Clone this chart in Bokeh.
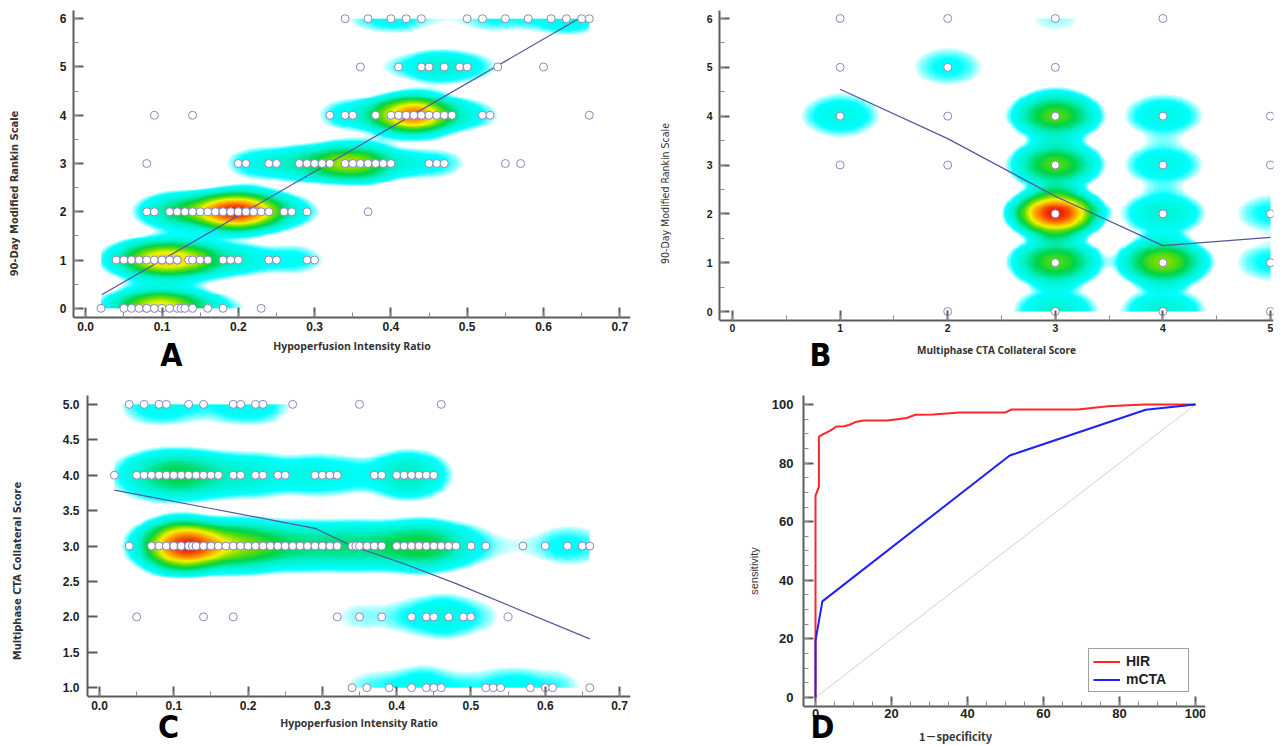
import numpy as np
from bokeh.plotting import figure
from bokeh.layouts import column, row
from bokeh.models import (Range1d, LinearColorMapper, Label, Legend, LegendItem,
                          SingleIntervalTicker, PrintfTickFormatter)
from bokeh.embed import file_html
from bokeh.resources import INLINE

# ---------------- Panel A: HIR vs 90-day mRS ----------------
a_mrs0 = [0.02, 0.05, 0.06, 0.07, 0.08, 0.08, 0.09, 0.09, 0.10, 0.11, 0.12, 0.125, 0.13, 0.14, 0.16, 0.18, 0.23]
a_mrs1 = [0.04, 0.05, 0.06, 0.07, 0.08, 0.09, 0.10, 0.10, 0.11, 0.11, 0.12, 0.12, 0.135, 0.14, 0.15, 0.16,
          0.18, 0.19, 0.20, 0.24, 0.25, 0.29, 0.30]
a_mrs2 = [0.08, 0.09, 0.11, 0.12, 0.13, 0.14, 0.15, 0.16, 0.17, 0.18, 0.18, 0.19, 0.19, 0.20, 0.20, 0.20, 0.21,
          0.21, 0.22, 0.22, 0.23, 0.24, 0.26, 0.27, 0.29, 0.37]
a_mrs3 = [0.08, 0.20, 0.21, 0.24, 0.25, 0.28, 0.29, 0.30, 0.31, 0.32, 0.34, 0.34, 0.35, 0.35, 0.36, 0.37, 0.38,
          0.39, 0.40, 0.45, 0.46, 0.47, 0.55, 0.57]
a_mrs4 = [0.09, 0.14, 0.32, 0.34, 0.35, 0.38, 0.40, 0.41, 0.41, 0.42, 0.42, 0.42, 0.43, 0.43, 0.44, 0.44, 0.45,
          0.46, 0.47, 0.48, 0.52, 0.53, 0.66]
a_mrs5 = [0.36, 0.41, 0.44, 0.45, 0.47, 0.49, 0.50, 0.54, 0.60]
a_mrs6 = [0.34, 0.37, 0.40, 0.42, 0.44, 0.50, 0.52, 0.55, 0.58, 0.61, 0.63, 0.65, 0.66]
a_fit_x = [0.021, 0.646]
a_fit_y = [0.28, 6.0]

# ---------------- Panel B: mCTA score vs 90-day mRS ----------------
b_cta = [1, 1, 1, 1, 2, 2, 2, 2, 2, 3, 3, 3, 3, 3, 3, 3, 4, 4, 4, 4, 4, 4, 5, 5, 5, 5, 5]
b_mrs = [3, 4, 5, 6, 0, 3, 4, 5, 6, 0, 1, 2, 3, 4, 5, 6, 0, 1, 2, 3, 4, 6, 0, 1, 2, 3, 4]
b_n = [1, 4, 1, 1, 1, 1, 1, 3, 1, 5, 10, 18, 10, 10, 1, 2, 5, 11, 5, 4, 4, 1, 1, 3, 3, 1, 1]
b_mean_x = [1, 2, 3, 4, 5]
b_mean_y = [4.55, 3.54, 2.36, 1.35, 1.52]

# ---------------- Panel C: HIR vs mCTA score ----------------
c_cta5 = [0.04, 0.06, 0.08, 0.09, 0.12, 0.14, 0.18, 0.19, 0.21, 0.22, 0.26, 0.35, 0.46]
c_cta4 = [0.02, 0.05, 0.06, 0.07, 0.08, 0.09, 0.10, 0.10, 0.11, 0.12, 0.13, 0.14, 0.15, 0.16, 0.18, 0.19,
          0.21, 0.22, 0.24, 0.25, 0.29, 0.30, 0.31, 0.32, 0.37, 0.38, 0.40, 0.41, 0.42, 0.43, 0.44, 0.45]
c_cta3 = [0.04, 0.07, 0.08, 0.09, 0.09, 0.10, 0.10, 0.10, 0.10, 0.11, 0.11, 0.11, 0.11, 0.12, 0.12, 0.125,
          0.13, 0.13, 0.14, 0.15, 0.15, 0.16, 0.17, 0.18, 0.18, 0.19, 0.19, 0.20, 0.20, 0.21, 0.22, 0.23,
          0.24, 0.25, 0.26, 0.27, 0.28, 0.29, 0.30, 0.31, 0.32, 0.34, 0.345, 0.35, 0.36, 0.37, 0.38, 0.40,
          0.41, 0.42, 0.42, 0.43, 0.43, 0.44, 0.45, 0.46, 0.47, 0.48, 0.50, 0.52, 0.57, 0.60, 0.63, 0.65, 0.66]
c_cta2 = [0.05, 0.14, 0.18, 0.32, 0.35, 0.38, 0.42, 0.44, 0.45, 0.47, 0.49, 0.50, 0.55]
c_cta1 = [0.34, 0.36, 0.39, 0.42, 0.44, 0.45, 0.46, 0.52, 0.53, 0.54, 0.58, 0.60, 0.61, 0.66]
c_fit_x = [0.02, 0.15, 0.29, 0.34, 0.41, 0.48, 0.66]
c_fit_y = [3.79, 3.53, 3.25, 3.00, 2.75, 2.47, 1.69]

# ---------------- Panel D: ROC curves ----------------
d_hir_fpr = [0, 0, 0.9, 0.9, 2.2, 3.9, 5.5, 7.5, 8.8, 10.5, 12.7, 18.9, 24, 26.3, 31, 38, 50, 51.6, 69, 77, 86.4, 100]
d_hir_tpr = [0, 68.9, 72, 89, 90, 91.1, 92.5, 92.6, 93, 94, 94.5, 94.5, 95.4, 96.5, 96.6, 97.3, 97.3, 98.3,
             98.3, 99.4, 100, 100]
d_cta_fpr = [0, 0, 1.8, 51.1, 86.9, 100]
d_cta_tpr = [0, 19.4, 32.8, 82.6, 98.2, 100]
d_ref = [0, 100]
d_labels = ["HIR", "mCTA"]

# ---------------- helpers ----------------
HEAT_STOPS = [(0.00, (225, 255, 255)), (0.07, (0, 255, 255)), (0.25, (0, 242, 200)),
              (0.42, (0, 212, 70)), (0.55, (110, 222, 0)), (0.68, (245, 245, 0)),
              (0.82, (255, 150, 0)), (1.00, (235, 20, 0))]


def make_palette(n=256):
    pos = [s[0] for s in HEAT_STOPS]
    cols = np.array([s[1] for s in HEAT_STOPS], dtype=float)
    out = []
    for t in np.linspace(0, 1, n):
        r = np.interp(t, pos, cols[:, 0])
        g = np.interp(t, pos, cols[:, 1])
        b = np.interp(t, pos, cols[:, 2])
        out.append("#%02x%02x%02x" % (int(r), int(g), int(b)))
    return out


PALETTE = make_palette()


def add_heat(p, xs, ys, ws, hx, hy, nx, ny, thresh, x0=None, x1=None):
    x0 = min(xs) if x0 is None else x0
    x1 = max(xs) if x1 is None else x1
    y0, y1 = min(ys), max(ys)
    gx = np.linspace(x0, x1, nx)
    gy = np.linspace(y0, y1, ny)
    X, Y = np.meshgrid(gx, gy)
    img = np.zeros_like(X)
    for x, y, w in zip(xs, ys, ws):
        r2 = ((X - x) / hx) ** 2 + ((Y - y) / hy) ** 2
        img += w * np.clip(1.0 - r2, 0.0, None) ** 2
    mapper = LinearColorMapper(palette=PALETTE, low=thresh, high=float(img.max()), low_color="white")
    p.image(image=[img], x=x0, y=y0, dw=x1 - x0, dh=y1 - y0, color_mapper=mapper)


AX = "#5c5c5c"
LETTER_FONT = "DejaVu Sans Condensed, Liberation Sans"
NARROW_FONT = "Liberation Sans Narrow, DejaVu Sans Condensed, Liberation Sans"


def style_axes(p, xint, xminor, yint, yminor, xfmt, yfmt, tick_size, x_at, y_bounds):
    p.xaxis.ticker = SingleIntervalTicker(interval=xint, num_minor_ticks=max(xminor, 1))
    p.yaxis.ticker = SingleIntervalTicker(interval=yint, num_minor_ticks=max(yminor, 1))
    if xfmt:
        p.xaxis.formatter = PrintfTickFormatter(format=xfmt)
    if yfmt:
        p.yaxis.formatter = PrintfTickFormatter(format=yfmt)
    p.xaxis.fixed_location = x_at
    p.yaxis.bounds = y_bounds
    for ax, mn in ((p.xaxis[0], xminor), (p.yaxis[0], yminor)):
        ax.axis_line_color = AX
        ax.axis_line_width = 2
        ax.major_tick_line_color = AX
        ax.major_tick_line_width = 2
        ax.major_tick_in = 10
        ax.major_tick_out = 0
        ax.minor_tick_line_color = "#8a8a8a" if mn > 0 else None
        ax.minor_tick_line_width = 1
        ax.minor_tick_in = 5
        ax.minor_tick_out = 0
        ax.major_label_text_font = "Liberation Sans"
        ax.major_label_text_font_style = "bold"
        ax.major_label_text_font_size = tick_size
        ax.major_label_text_color = "#222222"
        ax.axis_label_text_color = "#333333"
    p.grid.visible = False
    p.outline_line_color = None
    p.background_fill_color = "white"
    p.border_fill_color = "white"


def panel_letter(p, text, x, y):
    p.add_layout(Label(x=x, y=y, x_units="screen", y_units="screen", text=text,
                       text_align="center", text_baseline="alphabetic",
                       text_font=LETTER_FONT, text_font_style="bold",
                       text_font_size="32px", text_color="#000000"))


PT_LINE = "#8c88bd"
FIT = "#55559c"

# ---------------- Panel A ----------------
pA = figure(width=640, height=376, x_range=Range1d(-0.016, 0.714), y_range=Range1d(-1.412, 6.17),
            output_backend="svg", toolbar_location=None,
            min_border_left=73, min_border_right=10, min_border_top=10, min_border_bottom=0)
a_rows = [a_mrs0, a_mrs1, a_mrs2, a_mrs3, a_mrs4, a_mrs5, a_mrs6]
a_x = [v for r in a_rows for v in r]
a_y = [i for i, r in enumerate(a_rows) for _ in r]
add_heat(pA, a_x, a_y, [1] * len(a_x), 0.075, 0.7, 500, 300, 2.0)
pA.line(a_fit_x, a_fit_y, line_color=FIT, line_width=1.2)
pA.scatter(a_x, a_y, size=8, fill_color="white", line_color=PT_LINE, line_width=1)
style_axes(pA, 0.1, 2, 1, 2, "%.1f", None, "12px", -0.19, (-0.19, 6.17))
pA.xaxis.axis_label = "Hypoperfusion Intensity Ratio"
pA.yaxis.axis_label = "90-Day Modified Rankin Scale"
pA.xaxis.major_label_standoff = 4
pA.yaxis.major_label_standoff = 7
pA.xaxis.axis_label_standoff = 5
pA.yaxis.axis_label_standoff = 36
pA.xaxis.axis_label_text_font = "Open Sans"
pA.xaxis.axis_label_text_font_size = "10.5px"
pA.xaxis.axis_label_text_font_style = "bold"
pA.yaxis.axis_label_text_font = NARROW_FONT
pA.yaxis.axis_label_text_font_size = "11px"
pA.yaxis.axis_label_text_font_style = "bold"
panel_letter(pA, "A", 98, 22)

# ---------------- Panel B ----------------
pB = figure(width=642, height=376, x_range=Range1d(-0.121, 5.028), y_range=Range1d(-1.331, 6.164),
            output_backend="svg", toolbar_location=None,
            min_border_left=79, min_border_right=9, min_border_top=10, min_border_bottom=0)
add_heat(pB, b_cta, b_mrs, b_n, 0.6, 0.72, 500, 300, 1.6, x0=0.0, x1=5.0)
pB.line(b_mean_x, b_mean_y, line_color=FIT, line_width=1.2)
pB.scatter(b_cta, b_mrs, size=8, fill_color="white", line_color=PT_LINE, line_width=1)
style_axes(pB, 1, 2, 1, 2, None, None, "10.5px", -0.184, (-0.184, 6.164))
pB.xaxis.axis_label = "Multiphase CTA Collateral Score"
pB.yaxis.axis_label = "90-Day Modified Rankin Scale"
pB.xaxis.major_label_standoff = 4
pB.yaxis.major_label_standoff = 7
pB.xaxis.axis_label_standoff = 7
pB.yaxis.axis_label_standoff = 33
pB.xaxis.axis_label_text_font = "Open Sans"
pB.xaxis.axis_label_text_font_size = "10px"
pB.xaxis.axis_label_text_font_style = "bold"
pB.yaxis.axis_label_text_font = NARROW_FONT
pB.yaxis.axis_label_text_font_size = "10.5px"
pB.yaxis.axis_label_text_font_style = "normal"
panel_letter(pB, "B", 101, 22)

# ---------------- Panel C ----------------
pC = figure(width=640, height=370, x_range=Range1d(-0.0162, 0.7148), y_range=Range1d(0.170, 5.125),
            output_backend="svg", toolbar_location=None,
            min_border_left=87, min_border_right=10, min_border_top=12, min_border_bottom=0)
c_rows = [(1, c_cta1), (2, c_cta2), (3, c_cta3), (4, c_cta4), (5, c_cta5)]
c_x = [v for _, r in c_rows for v in r]
c_y = [k for k, r in c_rows for _ in r]
add_heat(pC, c_x, c_y, [1] * len(c_x), 0.075, 0.6, 500, 300, 2.0)
pC.line(c_fit_x, c_fit_y, line_color=FIT, line_width=1.2)
pC.scatter(c_x, c_y, size=8, fill_color="white", line_color=PT_LINE, line_width=1)
style_axes(pC, 0.1, 2, 0.5, 0, "%.1f", "%.1f", "12px", 0.875, (0.875, 5.125))
pC.xaxis.axis_label = "Hypoperfusion Intensity Ratio"
pC.yaxis.axis_label = "Multiphase CTA Collateral Score"
pC.xaxis.major_label_standoff = 4
pC.yaxis.major_label_standoff = 8
pC.xaxis.axis_label_standoff = 3
pC.yaxis.axis_label_standoff = 36
pC.xaxis.axis_label_text_font = "Open Sans"
pC.xaxis.axis_label_text_font_size = "10.5px"
pC.xaxis.axis_label_text_font_style = "bold"
pC.yaxis.axis_label_text_font = NARROW_FONT
pC.yaxis.axis_label_text_font_size = "11px"
pC.yaxis.axis_label_text_font_style = "bold"
panel_letter(pC, "C", 81, 20)

# ---------------- Panel D ----------------
pD = figure(width=642, height=370, x_range=Range1d(-3.16, 102.63), y_range=Range1d(-16.73, 103.07),
            output_backend="svg", toolbar_location=None,
            min_border_left=163, min_border_right=77, min_border_top=19, min_border_bottom=0)
pD.line(d_ref, d_ref, line_color="#dccbd2", line_width=1)
r_hir = pD.line(d_hir_fpr, d_hir_tpr, line_color="#ff2626", line_width=2)
r_cta = pD.line(d_cta_fpr, d_cta_tpr, line_color="#1f1fff", line_width=2)
style_axes(pD, 20, 4, 20, 4, None, None, "13px", -3.07, (-3.07, 103.07))
pD.yaxis.axis_label = "sensitivity"
pD.xaxis.major_label_standoff = 3
pD.yaxis.major_label_standoff = 10
pD.yaxis.axis_label_standoff = 9
pD.yaxis.axis_label_text_font = "Liberation Sans"
pD.yaxis.axis_label_text_font_size = "11px"
pD.yaxis.axis_label_text_font_style = "normal"
pD.add_layout(Label(x=152, y=11, x_units="screen", y_units="screen", text="1－specificity",
                    text_align="center", text_baseline="alphabetic",
                    text_font="Noto Sans CJK SC", text_font_style="bold",
                    text_font_size="11px", text_color="#333333"))
legend = Legend(items=[LegendItem(label=d_labels[0], renderers=[r_hir]),
                       LegendItem(label=d_labels[1], renderers=[r_cta])],
                location=(285, 54), orientation="vertical")
legend.border_line_color = "#444444"
legend.border_line_width = 1.5
legend.background_fill_color = "white"
legend.background_fill_alpha = 1
legend.label_text_font = "Liberation Sans"
legend.label_text_font_style = "bold"
legend.label_text_font_size = "14px"
legend.label_text_color = "#222222"
legend.glyph_width = 27
legend.glyph_height = 15
legend.label_height = 15
legend.label_width = 58
legend.label_standoff = 6
legend.spacing = 2
legend.padding = 4
legend.margin = 0
pD.add_layout(legend)
panel_letter(pD, "D", 19, 20)

layout = column(row(pA, pB), row(pC, pD))
open("out.html", "w").write(file_html(layout, INLINE))
